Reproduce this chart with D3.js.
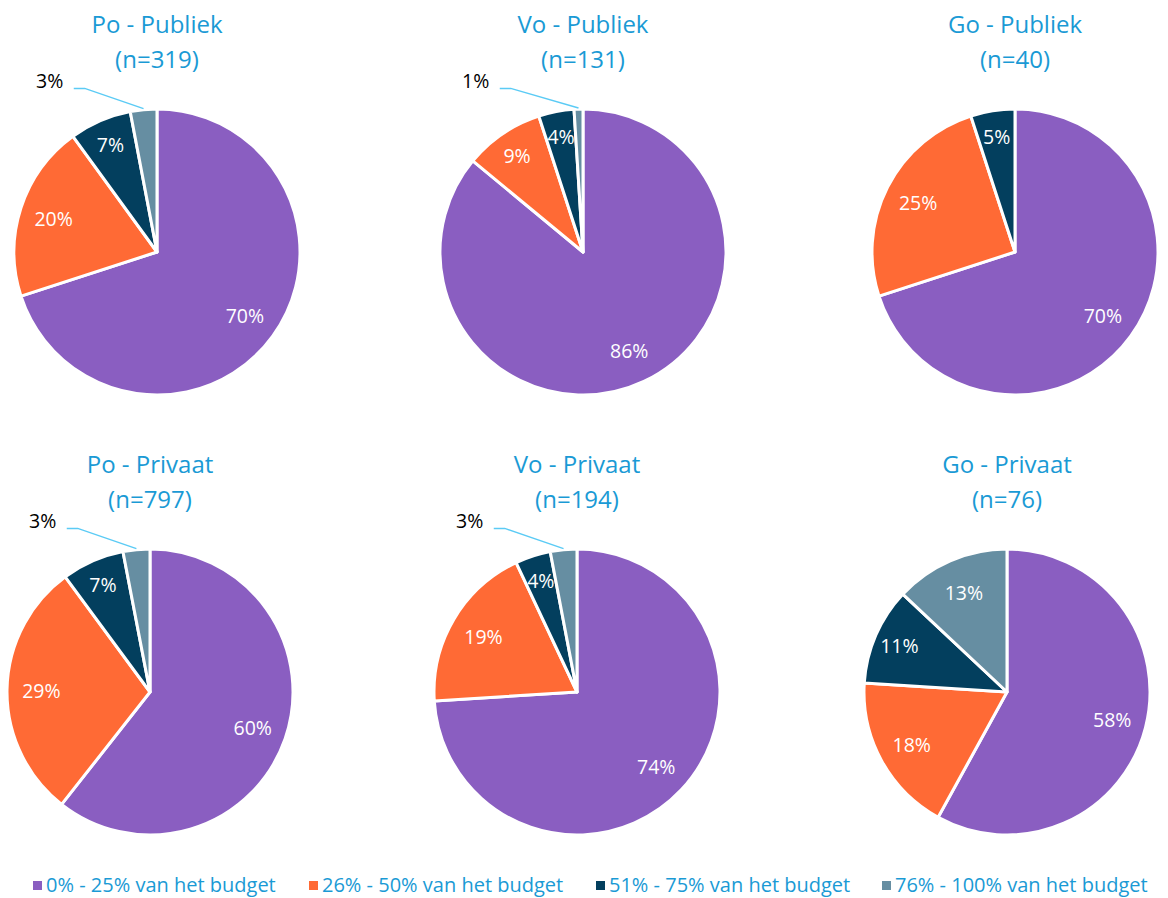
<!DOCTYPE html>
<html><head><meta charset="utf-8">
<script src="https://cdn.jsdelivr.net/npm/d3@7"></script>
<style>
html,body{margin:0;padding:0;background:#fff;}
svg{display:block;}
text{font-family:"Open Sans","Noto Sans",sans-serif;}
</style></head>
<body>
<svg id="chart" width="1168" height="898"></svg>
<script>
// ---- data ----
const categories = ["0% - 25% van het budget","26% - 50% van het budget","51% - 75% van het budget","76% - 100% van het budget"];
const chartTitles = ["Po - Publiek","Vo - Publiek","Go - Publiek","Po - Privaat","Vo - Privaat","Go - Privaat"];
const chartN = ["(n=319)","(n=131)","(n=40)","(n=797)","(n=194)","(n=76)"];
const poPubliek = [70,20,7,3];
const voPubliek = [86,9,4,1];
const goPubliek = [70,25,5,0];
const poPrivaat = [60,29,7,3];
const voPrivaat = [74,19,4,3];
const goPrivaat = [58,18,11,13];
const seriesValues = [poPubliek,voPubliek,goPubliek,poPrivaat,voPrivaat,goPrivaat];
const colors = ["#8A5EC1","#FF6A35","#033F5E","#668EA2"];

// ---- layout ----
const svg = d3.select("#chart");
const centers = [[157,252],[583,252],[1015,252],[150,692],[577,692],[1007,692]];
const R = 143;
const color = d3.scaleOrdinal().domain(categories).range(colors);
const pie = d3.pie().sort(null).value(d=>d.v);
const arc = d3.arc().innerRadius(0).outerRadius(R);

seriesValues.forEach((vals,i)=>{
  const [cx,cy] = centers[i];
  const g = svg.append("g").attr("transform",`translate(${cx},${cy})`);
  const data = vals.map((v,k)=>({v, cat:categories[k]}));
  const arcs = pie(data);
  g.selectAll("path").data(arcs.filter(a=>a.data.v>0)).join("path")
    .attr("d",arc).attr("fill",d=>color(d.data.cat))
    .attr("stroke","#fff").attr("stroke-width",3).attr("stroke-linejoin","round");
  arcs.filter(a=>a.data.v>0).forEach(a=>{
    const mid=(a.startAngle+a.endAngle)/2;
    if(a.data.v<=3){
      // outside label with leader line
      const lx=-0.75*R, ly=-1.2*R;
      const rim=[Math.sin(mid)*R, -Math.cos(mid)*R];
      g.append("polyline")
        .attr("points",`${lx+24},${ly+8} ${lx+35},${ly+8} ${rim[0]},${rim[1]-1}`)
        .attr("fill","none").attr("stroke","#5BCBF5").attr("stroke-width",1.5);
      g.append("text").attr("x",lx).attr("y",ly).attr("text-anchor","middle")
        .attr("dominant-baseline","central").attr("font-size",19.5).attr("fill","#000")
        .text(a.data.v+"%");
    } else {
      const lr = a.data.v<12 ? 0.82*R : 0.76*R;
      g.append("text").attr("x",Math.sin(mid)*lr).attr("y",-Math.cos(mid)*lr)
        .attr("text-anchor","middle").attr("dominant-baseline","central")
        .attr("font-size",19.5).attr("fill","#fff").text(a.data.v+"%");
    }
  });
  // titles
  const t = svg.append("text").attr("x",cx).attr("text-anchor","middle")
    .attr("font-size",24).attr("fill","#1A9AD5");
  t.append("tspan").attr("x",cx).attr("y",cy-219).text(chartTitles[i]);
  t.append("tspan").attr("x",cx).attr("y",cy-184).text(chartN[i]);
});

// legend
const legX=[33,309,596,882];
const leg = svg.append("g");
categories.forEach((c,k)=>{
  leg.append("rect").attr("x",legX[k]).attr("y",881).attr("width",9).attr("height",9).attr("fill",colors[k]);
  leg.append("text").attr("x",legX[k]+13).attr("y",884).attr("dominant-baseline","central")
    .attr("font-size",20).attr("fill","#1A9AD5").text(c);
});
</script>
</body></html>
